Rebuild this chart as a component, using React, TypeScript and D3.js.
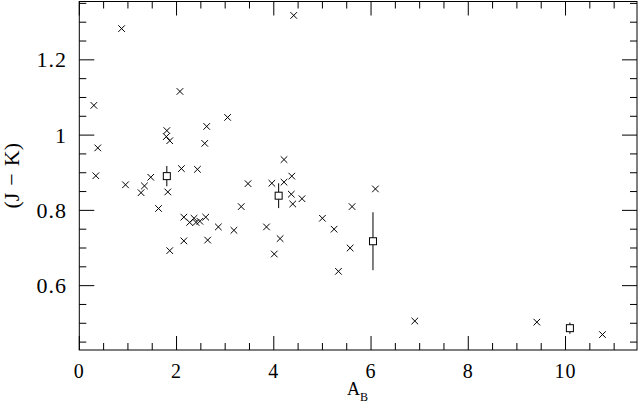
import React from "react";
import * as d3 from "d3";

const crossX = [0.87, 0.30, 2.07, 3.05, 2.62, 1.80, 1.79, 1.86, 0.38, 2.58, 0.34, 2.10, 2.43, 1.47, 0.95, 1.34, 1.27, 1.82, 1.63,
  2.15, 2.27, 2.36, 2.40, 2.48, 2.60, 2.86, 3.18, 2.15, 2.64, 1.86,
  4.21, 4.37, 3.47, 3.96, 4.21, 4.36, 4.58, 4.39, 6.09, 3.33, 5.61, 5.00, 3.85, 5.24, 4.13, 5.57, 4.01, 5.33, 4.41,
  6.90, 9.41, 10.76];
const crossY = [1.283, 1.079, 1.116, 1.047, 1.023, 1.012, 0.996, 0.985, 0.966, 0.978, 0.892, 0.911, 0.909, 0.888, 0.868, 0.865, 0.847, 0.849, 0.805,
  0.782, 0.768, 0.779, 0.768, 0.771, 0.782, 0.756, 0.747, 0.719, 0.721, 0.693,
  0.935, 0.891, 0.871, 0.872, 0.875, 0.843, 0.831, 0.817, 0.857, 0.810, 0.810, 0.779, 0.756, 0.750, 0.725, 0.700, 0.684, 0.638, 1.318,
  0.506, 0.503, 0.470];

const meanX = [1.80, 4.10, 6.04, 10.09];
const meanY = [0.891, 0.839, 0.718, 0.487];
const meanErr = [0.027, 0.033, 0.077, 0.015];

const xTicks = [0, 2, 4, 6, 8, 10];
const yTicks = [0.6, 0.8, 1, 1.2];

const W = 638, H = 408;
const L = 79.3, R = 637, T = 1.5, B = 350;

export default function App() {
  const x = d3.scaleLinear().domain([0, 11.47]).range([L, R]);
  const y = d3.scaleLinear().domain([0.429, 1.355]).range([B, T]);
  const xMinor = d3.range(0, 11.5, 0.5);
  const yMinor = d3.range(0.45, 1.36, 0.05);
  const tf = { fontFamily: "'Liberation Serif', serif" };
  const cs = 3.3;
  const sq = 3.5;
  return (
    <svg width={W} height={H} style={{ position: "absolute", left: 0, top: 0, background: "#fff" }}>
      <rect x={0} y={0} width={W} height={H} fill="#fff" />
      <g stroke="#000" strokeWidth={1} fill="none">
        <rect x={L} y={T} width={R - L} height={B - T} />
        {xMinor.map((v, i) => {
          const major = Math.abs(v / 2 - Math.round(v / 2)) < 1e-6;
          const len = major ? 14 : 7;
          return (
            <g key={"xm" + i}>
              <line x1={x(v)} x2={x(v)} y1={B} y2={B - len} />
              <line x1={x(v)} x2={x(v)} y1={T} y2={T + len} />
            </g>
          );
        })}
        {yMinor.map((v, i) => {
          const major = Math.abs(v / 0.2 - Math.round(v / 0.2)) < 1e-6;
          const len = major ? 15 : 7;
          return (
            <g key={"ym" + i}>
              <line x1={L} x2={L + len} y1={y(v)} y2={y(v)} />
              <line x1={R} x2={R - len} y1={y(v)} y2={y(v)} />
            </g>
          );
        })}
        {crossX.map((v, i) => (
          <path key={"c" + i}
            d={`M${x(v) - cs},${y(crossY[i]) - cs}L${x(v) + cs},${y(crossY[i]) + cs}M${x(v) - cs},${y(crossY[i]) + cs}L${x(v) + cs},${y(crossY[i]) - cs}`} />
        ))}
        {meanX.map((v, i) => (
          <g key={"m" + i}>
            <line x1={x(v)} x2={x(v)} y1={y(meanY[i] - meanErr[i])} y2={y(meanY[i]) + sq} />
            <line x1={x(v)} x2={x(v)} y1={y(meanY[i]) - sq} y2={y(meanY[i] + meanErr[i])} />
            <rect x={x(v) - sq} y={y(meanY[i]) - sq} width={2 * sq} height={2 * sq} fill="#fff" />
          </g>
        ))}
      </g>
      <g fill="#000">
        {xTicks.map((v) => (
          <text key={"xt" + v} x={x(v)} y={378} textAnchor="middle" style={{ ...tf, fontSize: 20, letterSpacing: 1 }}>{v}</text>
        ))}
        {yTicks.map((v) => (
          <text key={"yt" + v} x={67} y={y(v)} textAnchor="end" dominantBaseline="central" style={{ ...tf, fontSize: 22, letterSpacing: 1 }}>{v}</text>
        ))}
        <text x={347} y={395} style={{ ...tf, fontSize: 18 }}>A<tspan style={{ fontSize: 12 }} dy={6}>B</tspan></text>
        <text transform={`translate(11,${(T + B) / 2}) rotate(-90)`} textAnchor="middle" dominantBaseline="central" style={{ ...tf, fontSize: 22 }}>
          (J<tspan dx={7}>−</tspan><tspan dx={7}>K)</tspan>
        </text>
      </g>
    </svg>
  );
}
